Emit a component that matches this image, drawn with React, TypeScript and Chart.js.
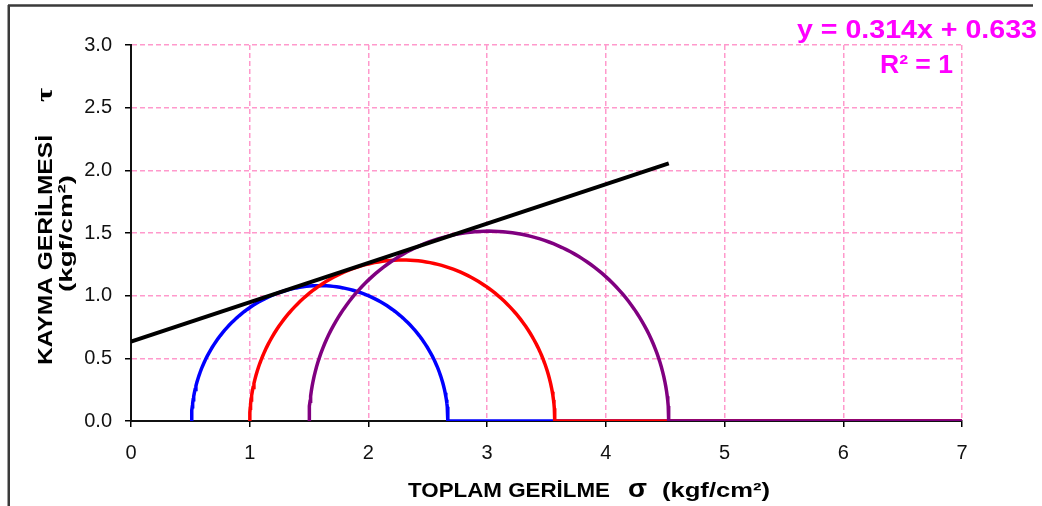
import React, { useEffect, useRef } from 'react';
import { Chart, registerables } from 'chart.js';

Chart.register(...registerables);

// Mohr circles: minor / major principal stresses (kgf/cm²)
const sigma3 = [0.51, 1.0, 1.5];
const sigma1 = [2.67, 3.57, 4.53];
const circleColors = ['#0000ff', '#ff0000', '#800080'];
const circleNames = ['Daire 1', 'Daire 2', 'Daire 3'];

// Failure envelope (trend line)
const fitSlope = 0.314;
const fitIntercept = 0.633;
const fitStartX = 0;
const fitEndX = 4.53;

// Axes
const xTicks = [0, 1, 2, 3, 4, 5, 6, 7];
const yTicks = [0, 0.5, 1.0, 1.5, 2.0, 2.5, 3.0];
const xMin = 0;
const xMax = 7;
const yMin = 0;
const yMax = 3;

const equationText = 'y = 0.314x + 0.633';
const r2Text = 'R² = 1';

function circlePoints(s3: number, s1: number) {
  const c = (s1 + s3) / 2;
  const r = (s1 - s3) / 2;
  const pts: { x: number; y: number }[] = [];
  const n = 120;
  for (let i = 0; i <= n; i++) {
    const a = Math.PI - (Math.PI * i) / n;
    pts.push({ x: c + r * Math.cos(a), y: r * Math.sin(a) });
  }
  pts.push({ x: xMax, y: 0 });
  return pts;
}

function fitText(
  ctx: CanvasRenderingContext2D,
  text: string,
  x: number,
  y: number,
  w: number,
  font: string,
  color: string
) {
  ctx.save();
  ctx.font = font;
  ctx.fillStyle = color;
  ctx.textBaseline = 'alphabetic';
  ctx.textAlign = 'left';
  const m = ctx.measureText(text).width;
  ctx.translate(x, y);
  ctx.scale(w / m, 1);
  ctx.fillText(text, 0, 0);
  ctx.restore();
}

const textPlugin = {
  id: 'textPlugin',
  afterDraw(chart: any) {
    const ctx: CanvasRenderingContext2D = chart.ctx;
    // outer frame (top + left)
    ctx.save();
    ctx.strokeStyle = '#3a3a3a';
    ctx.lineWidth = 2.5;
    ctx.beginPath();
    ctx.moveTo(8, 5.5);
    ctx.lineTo(1033, 5.5);
    ctx.moveTo(8.75, 5);
    ctx.lineTo(8.75, 506);
    ctx.stroke();
    ctx.restore();

    const sans = '"Liberation Sans", Arial, sans-serif';
    const serif = '"Liberation Serif", "DejaVu Serif", serif';

    // Y title
    ctx.save();
    ctx.translate(52, 365);
    ctx.rotate(-Math.PI / 2);
    fitText(ctx, 'KAYMA GERİLMESİ', 0, 0, 230, `bold 21px ${sans}`, '#000');
    ctx.restore();
    ctx.save();
    ctx.translate(52, 102);
    ctx.rotate(-Math.PI / 2);
    fitText(ctx, 'τ', 0, 0, 14, `bold 24px ${serif}`, '#000');
    ctx.restore();
    ctx.save();
    ctx.translate(72, 292);
    ctx.rotate(-Math.PI / 2);
    fitText(ctx, '(kgf/cm²)', 0, 0, 117, `bold 19px ${sans}`, '#000');
    ctx.restore();

    // X title
    fitText(ctx, 'TOPLAM GERİLME', 408, 497, 202, `bold 21px ${sans}`, '#000');
    fitText(ctx, 'σ', 628, 497, 19, `bold 26px ${sans}`, '#000');
    fitText(ctx, '(kgf/cm²)', 662, 497, 108, `bold 20px ${sans}`, '#000');

    // Trend line equation
    fitText(ctx, equationText, 797, 38, 240, `bold 25px ${sans}`, '#ff00ff');
    fitText(ctx, r2Text, 880, 73, 73, `bold 25px ${sans}`, '#ff00ff');
  },
};

export default function App() {
  const ref = useRef<HTMLCanvasElement | null>(null);

  useEffect(() => {
    document.body.style.margin = '0';
    const canvas = ref.current;
    if (!canvas) return;

    const lineDs = {
      label: 'Zarf',
      data: [
        { x: fitStartX, y: fitSlope * fitStartX + fitIntercept },
        { x: fitEndX, y: fitSlope * fitEndX + fitIntercept },
      ],
      borderColor: '#000',
      borderWidth: 4,
      showLine: true,
      pointRadius: 0,
      fill: false,
    };
    const circleDs = [2, 1, 0].map((i) => ({
      label: circleNames[i],
      data: circlePoints(sigma3[i], sigma1[i]),
      borderColor: circleColors[i],
      borderWidth: 3.5,
      showLine: true,
      pointRadius: 0,
      fill: false,
      tension: 0,
    }));

    const chart = new Chart(canvas, {
      type: 'scatter',
      data: { datasets: [lineDs, ...circleDs] as any },
      options: {
        animation: false,
        responsive: false,
        devicePixelRatio: 1,
        layout: { padding: { left: 0, top: 45, right: 80, bottom: 0 } },
        plugins: { legend: { display: false }, tooltip: { enabled: false } },
        scales: {
          x: {
            type: 'linear',
            min: xMin,
            max: xMax,
            afterBuildTicks: (s: any) => {
              s.ticks = xTicks.map((v) => ({ value: v }));
            },
            ticks: {
              font: { family: '"Liberation Sans", Arial, sans-serif', size: 20 },
              color: '#111',
              padding: 14,
              maxRotation: 0,
              autoSkip: false,
              callback: (v: any) => String(v),
            },
            grid: { color: '#ff99cc', lineWidth: 1.5, tickLength: 6, tickColor: '#000', tickWidth: 1.5 },
            border: { color: '#111', width: 2, dash: [5, 3] },
            afterFit: (s: any) => {
              s.height = 85;
            },
          },
          y: {
            type: 'linear',
            min: yMin,
            max: yMax,
            afterBuildTicks: (s: any) => {
              s.ticks = yTicks.map((v) => ({ value: v }));
            },
            ticks: {
              font: { family: '"Liberation Sans", Arial, sans-serif', size: 20 },
              color: '#111',
              padding: 13,
              autoSkip: false,
              callback: (v: any) => Number(v).toFixed(1),
            },
            grid: { color: '#ff99cc', lineWidth: 1.5, tickLength: 6, tickColor: '#000', tickWidth: 1.5 },
            border: { color: '#111', width: 2, dash: [5, 3] },
            afterFit: (s: any) => {
              s.width = 131;
            },
          },
        },
      },
      plugins: [textPlugin],
    });
    return () => chart.destroy();
  }, []);

  return (
    <div style={{ position: 'fixed', left: 0, top: 0, width: 1042, height: 506, background: '#fff' }}>
      <canvas ref={ref} width={1042} height={506} style={{ display: 'block' }} />
    </div>
  );
}
